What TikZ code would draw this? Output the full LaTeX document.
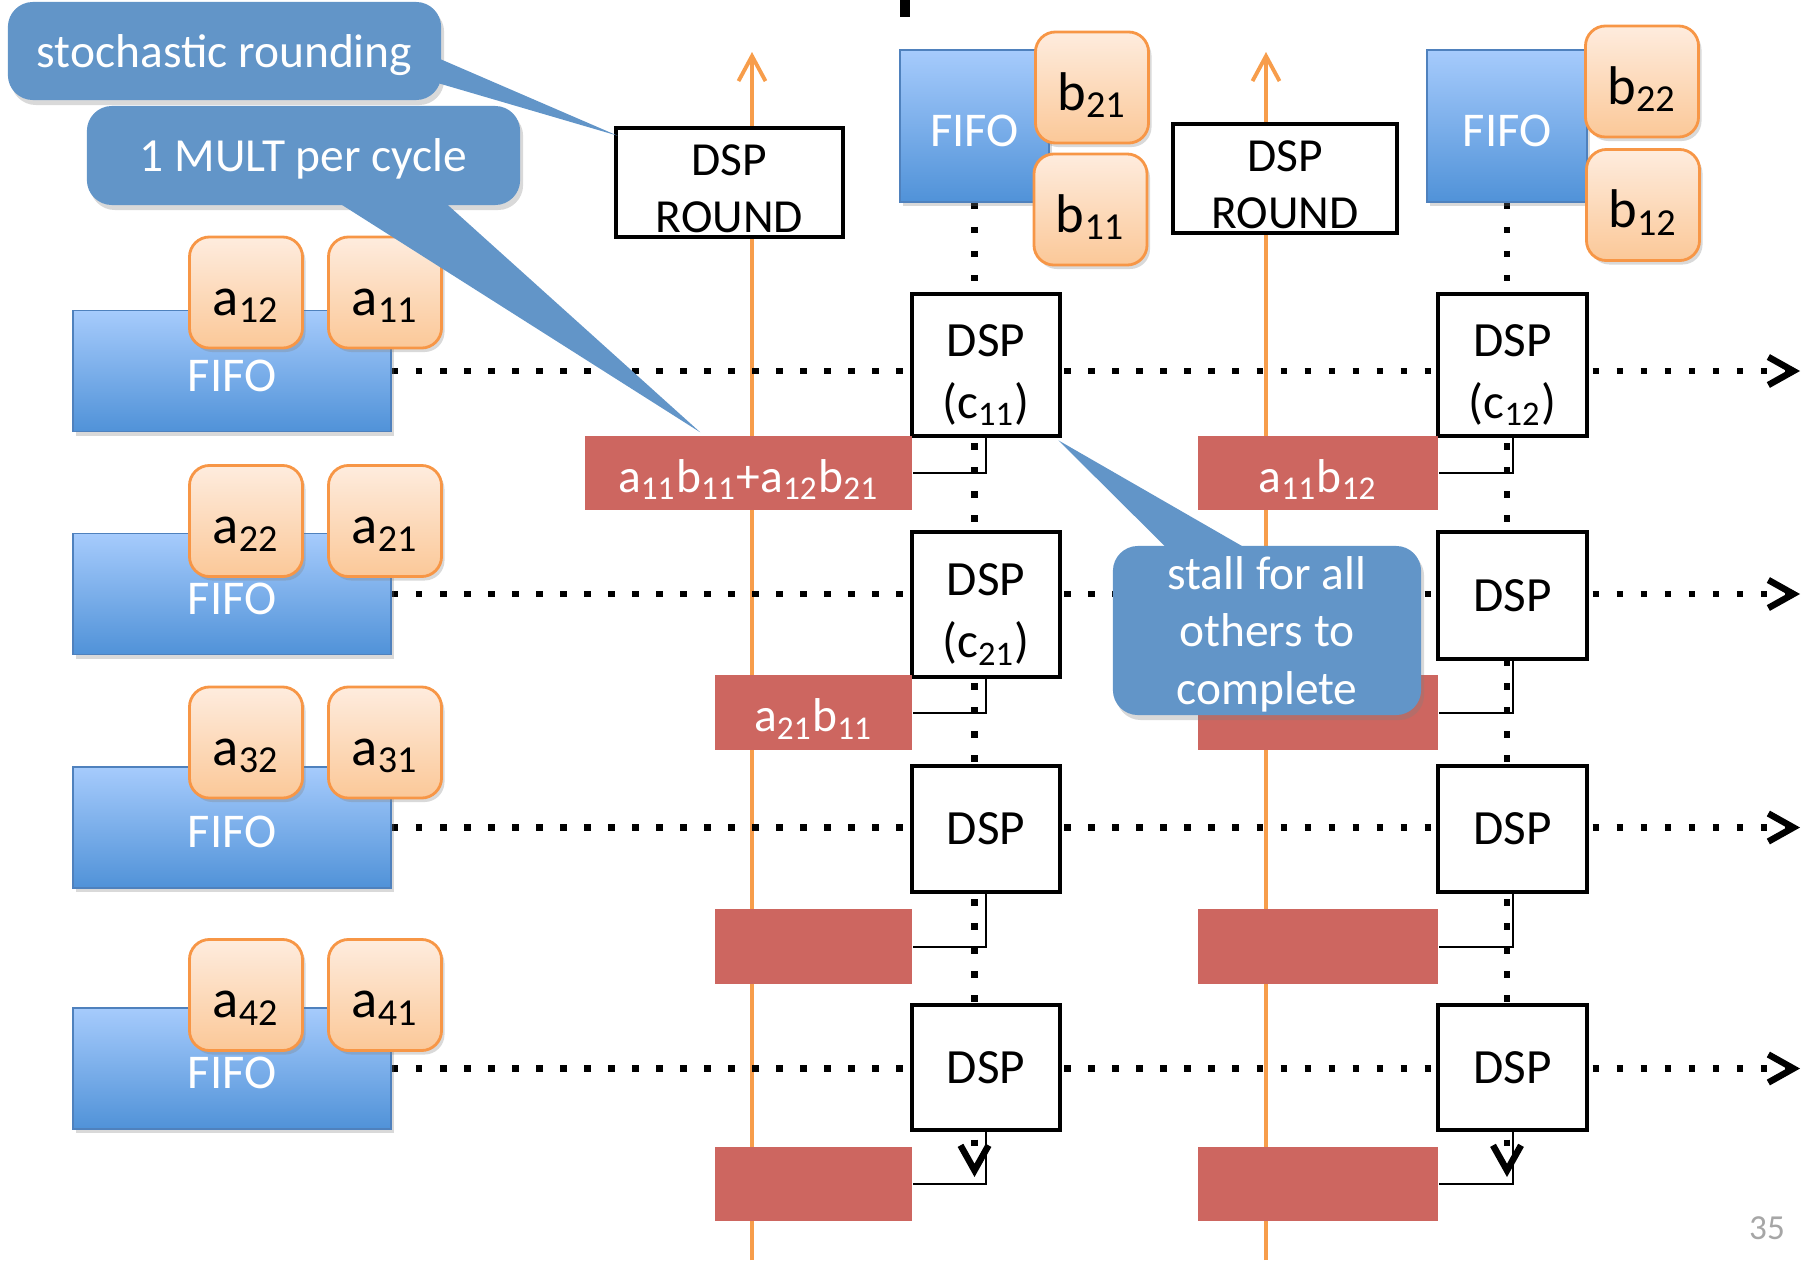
\documentclass[tikz,border=0pt]{standalone}
\usepackage{fontspec}
\setmainfont{Carlito}
\usetikzlibrary{arrows.meta,calc,shadows,backgrounds}

\def\mypx{0.01cm}
\definecolor{fifotop}{RGB}{166,203,252}
\definecolor{fifobot}{RGB}{80,146,216}
\definecolor{fifoline}{RGB}{79,129,189}
\definecolor{celltop}{RGB}{254,236,222}
\definecolor{cellbot}{RGB}{251,200,152}
\definecolor{cellline}{RGB}{247,150,70}
\definecolor{prodred}{RGB}{205,102,96}
\definecolor{noteblue}{RGB}{98,149,200}
\definecolor{clockorange}{RGB}{247,157,75}
\newcommand{\myidx}[1]{\textsubscript{#1}}
\newcommand{\mytop}[1]{\rule{0pt}{#1}}

\begin{document}
\begin{tikzpicture}[x=\mypx, y=-\mypx,
    fifo/.style={rectangle, draw=fifoline, line width=0.5pt, top color=fifotop, bottom color=fifobot, text=white, inner sep=0pt, text height=0.4cm, text depth=0pt, font=\fontsize{13.8}{16}\selectfont, drop shadow={opacity=0.3, shadow xshift=0.03cm, shadow yshift=-0.04cm}},
    cell/.style={rectangle, rounded corners=0.2cm, draw=cellline, line width=0.8pt, top color=celltop, bottom color=cellbot, minimum width=1.13cm, minimum height=1.11cm, inner sep=0pt, text height=0.5cm, text depth=0.05cm, font=\fontsize{15.5}{18}\selectfont, drop shadow={opacity=0.3, shadow xshift=0.03cm, shadow yshift=-0.04cm}},
    dspbox/.style={rectangle, draw=black, line width=0.045cm, fill=white, inner sep=0pt, align=center, font=\fontsize{14}{17.6}\selectfont},
    roundbox/.style={dspbox, font=\fontsize{13.5}{16.2}\selectfont},
    prod/.style={rectangle, fill=prodred, text=white, inner sep=0pt, minimum height=0.74cm, text height=0.45cm, text depth=0.07cm, font=\fontsize{13.5}{16}\selectfont},
    note/.style={rectangle, rounded corners=0.25cm, fill=noteblue, text=white, inner sep=0pt, align=center, font=\fontsize{13.5}{16.4}\selectfont, drop shadow={opacity=0.3, shadow xshift=0.03cm, shadow yshift=-0.05cm}},
    clock/.style={draw=clockorange, line width=1.1pt, -{Straight Barb[length=0.25cm, width=0.27cm]}},
    dots/.style={line width=0.065cm, dash pattern=on 0.065cm off 0.175cm},
    dotarrow/.style={dots, -{Straight Barb[length=0.25cm, width=0.28cm]}},
    link/.style={draw=black, line width=0.02cm},
    pagenum/.style={text=gray!70, font=\fontsize{10}{12}\selectfont}]
\useasboundingbox (0,0) rectangle (1815,1260);

% rows of A with their FIFOs
\foreach \i/\y/\ay in {1/371/292.5, 2/594/521, 3/827.5/742.5, 4/1068.5/995}
{
    \node[fifo, minimum width=3.18cm, minimum height=1.21cm] (fa\i) at (232,\y) {FIFO};
    \node[cell] (a\i2) at (246,\ay) {a\myidx{\i2}};
    \node[cell] (a\i1) at (385,\ay) {a\myidx{\i1}};
}

% columns of B
\node[fifo, minimum width=1.49cm, minimum height=1.52cm] (fb1) at (974.5,126) {FIFO};
\node[fifo, minimum width=1.60cm, minimum height=1.52cm] (fb2) at (1507,126) {FIFO};
\node[cell] (b21) at (1092,87.5) {b\myidx{21}};
\node[cell] (b11) at (1090.5,209.5) {b\myidx{11}};
\node[cell] (b22) at (1642,81.5) {b\myidx{22}};
\node[cell] (b12) at (1643,205) {b\myidx{12}};

% rounding units
\node[roundbox, minimum width=2.27cm, minimum height=1.09cm] (r1) at (729.5,182.5) {\mytop{0.43cm}DSP\\ROUND};
\node[roundbox, minimum width=2.24cm, minimum height=1.09cm] (r2) at (1285,178.5) {\mytop{0.43cm}DSP\\ROUND};

% DSP array
\node[dspbox, minimum width=1.48cm, minimum height=1.42cm] (d11) at (986,365) {\mytop{0.52cm}DSP\\(c\myidx{11})};
\node[dspbox, minimum width=1.49cm, minimum height=1.42cm] (d12) at (1512.5,365) {\mytop{0.52cm}DSP\\(c\myidx{12})};
\node[dspbox, minimum width=1.48cm, minimum height=1.45cm] (d21) at (986,604.5) {\mytop{0.52cm}DSP\\(c\myidx{21})};
\node[dspbox, minimum width=1.49cm, minimum height=1.27cm] (d22) at (1512.5,595.5) {DSP};
\node[dspbox, minimum width=1.48cm, minimum height=1.26cm] (d31) at (986,829) {DSP};
\node[dspbox, minimum width=1.49cm, minimum height=1.26cm] (d32) at (1512.5,829) {DSP};
\node[dspbox, minimum width=1.48cm, minimum height=1.25cm] (d41) at (986,1067.5) {DSP};
\node[dspbox, minimum width=1.49cm, minimum height=1.25cm] (d42) at (1512.5,1067.5) {DSP};

% partial sums
\node[prod, minimum width=3.27cm] (p11) at (748.5,473) {a\myidx{11}b\myidx{11}+a\myidx{12}b\myidx{21}};
\node[prod, minimum width=2.40cm] (p12) at (1318,473) {a\myidx{11}b\myidx{12}};
\node[prod, minimum width=1.97cm] (p21) at (813.5,712.5) {a\myidx{21}b\myidx{11}};
\node[prod, minimum width=2.40cm] (p22) at (1318,712.5) {};
\node[prod, minimum width=1.97cm] (p31) at (813.5,946.5) {};
\node[prod, minimum width=2.40cm] (p32) at (1318,946.5) {};
\node[prod, minimum width=1.97cm] (p41) at (813.5,1184) {};
\node[prod, minimum width=2.40cm] (p42) at (1318,1184) {};

\foreach \i in {1,...,4}
{
    \draw[link] (d\i1.south) |- (p\i1.east); %DSP to its sum
    \draw[link] (d\i2.south) |- (p\i2.east);
}

\coordinate (rt) at (1800,0);
\coordinate (dn) at (0,1177);
\coordinate (ck1t) at (752,52);
\coordinate (ck1b) at (752,1260);
\coordinate (ck2t) at (1266,52);
\coordinate (ck2b) at (1266,1260);

\begin{pgfonlayer}{background}
    \draw[clock] (ck1b) -- (ck1t);
    \draw[clock] (ck2b) -- (ck2t);
    \foreach \i in {1,...,4}
        \draw[dotarrow] (fa\i.east) -- (fa\i.east -| rt); %A stream
    \draw[dotarrow] (fb1.south) -- (fb1.south |- dn); %B stream
    \draw[dotarrow] (fb2.south) -- (fb2.south |- dn);
\end{pgfonlayer}

% callouts
\node[note, text depth=0pt, minimum width=4.33cm, minimum height=0.98cm] (n1) at (224.5,51) {stochastic rounding};
\fill[noteblue] ($(n1.east)+(-11,4)$) -- ($(r1.north west)+(4,10)$) -- ($(n1.east)+(-11,30)$) -- cycle;
\node[note, text depth=0pt, minimum width=4.33cm, minimum height=0.99cm] (n2) at (303.5,155.5) {1 MULT per cycle};
\fill[noteblue] ($(n2.south)+(24,-10)$) -- ($(p11.north west)+(116,-3)$) -- ($(n2.south)+(134,-10)$) -- cycle;
\node[note, minimum width=3.08cm, minimum height=1.69cm] (n3) at (1267,630.5) {\mytop{0.4cm}stall for all\\others to\\complete};
\fill[noteblue] ($(n3.north)+(-93,10)$) -- ($(d11.south east)+(-4,2)$) -- ($(n3.north)+(-9,10)$) -- cycle;

\fill (900,0) rectangle (910,17);
\node[pagenum] (pg) at (1767,1228) {35};
\end{tikzpicture}
\end{document}
